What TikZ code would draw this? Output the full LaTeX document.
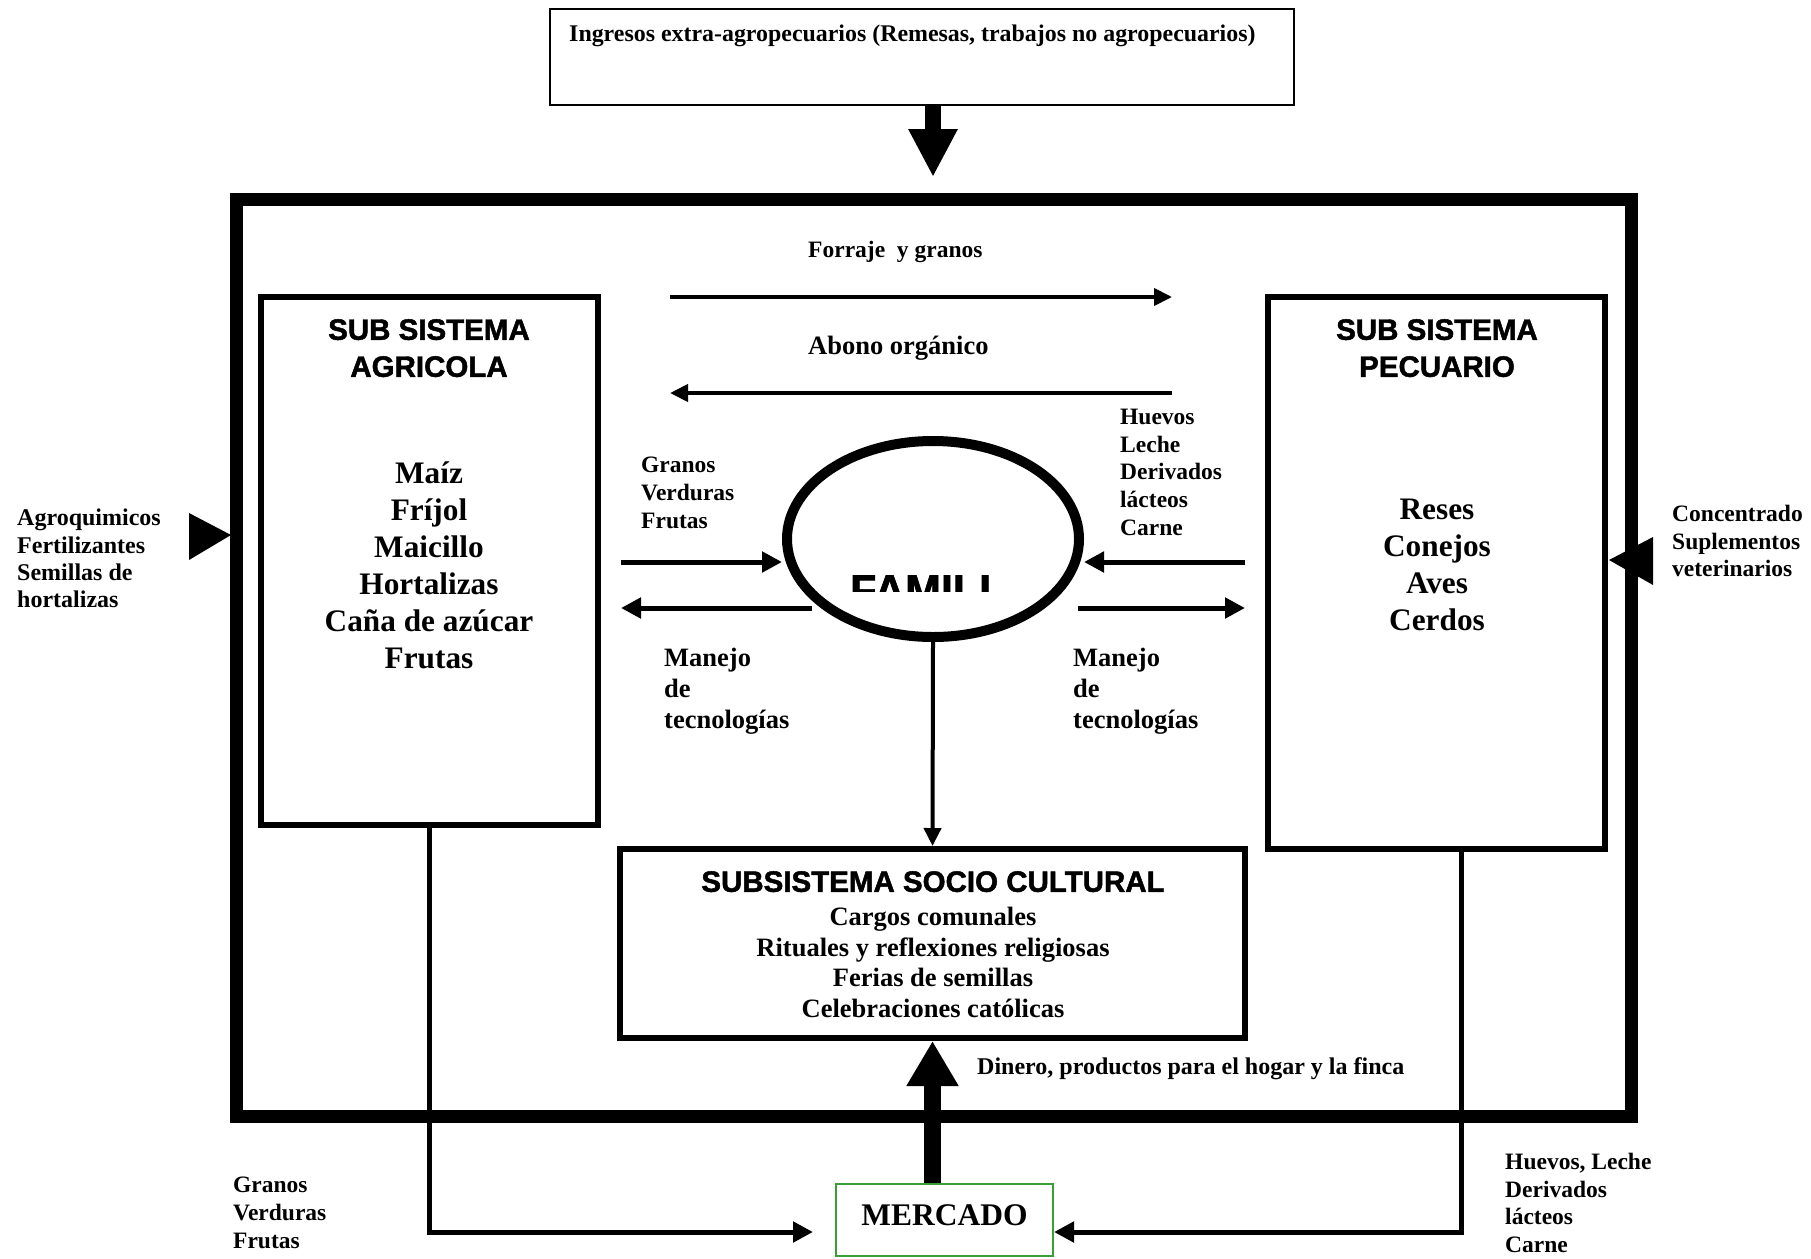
\documentclass[tikz,border=0pt]{standalone}
\usepackage{fontspec}
\setmainfont{Liberation Serif}
\newfontfamily\hdfont[BoldFeatures={FakeBold=1.6}]{Liberation Sans}
\usetikzlibrary{arrows.meta,shapes.geometric}
\definecolor{mgreen}{RGB}{56,158,56}
\tikzset{
  small/.style={font=\bfseries\fontsize{23.5}{27.7}\selectfont, align=left, anchor=north west},
  big/.style={font=\bfseries\fontsize{31.3}{37}\selectfont, align=center, anchor=north},
  mid/.style={font=\bfseries\fontsize{26.5}{30.6}\selectfont, align=center, anchor=north},
  headtxt/.style={font=\hdfont\bfseries\fontsize{29.5}{37}\selectfont, align=center, anchor=north},
  subbox/.style={draw, line width=6pt, rectangle},
  thinarr/.style={line width=5pt, -{Triangle[length=20pt,width=20pt]}},
  medarr/.style={line width=4pt, -{Triangle[length=18pt,width=17pt]}},
  linkarr/.style={line width=5pt, -{Triangle[length=20pt,width=20pt]}},
}
\begin{document}
\begin{tikzpicture}[x=1pt,y=-1pt, every node/.style={inner sep=0pt}]
\useasboundingbox (0,0) rectangle (1811,1258);

% top box
\node[draw, line width=2pt, minimum width=744pt, minimum height=96pt] (top) at (922,57) {};
\node[small, font=\bfseries\fontsize{23.9}{27.7}\selectfont] (toptxt) at (569,25) {Ingresos extra-agropecuarios (Remesas, trabajos no agropecuarios)};
\coordinate (toptip) at (933,177);
\draw[line width=16pt, -{Triangle[length=48pt,width=46pt]}] (top.south -| toptip) -- (toptip);

% outer box
\node[draw, line width=13pt, minimum width=1395pt, minimum height=917pt] (outer) at (933.5,657.5) {};

% agricola
\node[subbox, minimum width=337pt, minimum height=528pt] (agri) at (429.5,561) {};
\node[headtxt] (agrititle) at (429,319) {SUB SISTEMA\\AGRICOLA};
\node[big] (agriitems) at (429,461.5) {Maíz\\Fríjol\\Maicillo\\Hortalizas\\Caña de azúcar\\Frutas};

% pecuario
\node[subbox, minimum width=337pt, minimum height=552pt] (pec) at (1436.5,573) {};
\node[headtxt] (pectitle) at (1437,319) {SUB SISTEMA\\PECUARIO};
\node[big] (pecitems) at (1437,498.5) {Reses\\Conejos\\Aves\\Cerdos};

% socio cultural
\node[subbox, minimum width=625pt, minimum height=189pt] (socio) at (932.5,943.5) {};
\node[headtxt] (sociotitle) at (933,871) {SUBSISTEMA SOCIO CULTURAL};
\node[mid] (socioitems) at (933,907) {Cargos comunales\\Rituales y reflexiones religiosas\\Ferias de semillas\\Celebraciones católicas};

% familia
\node[draw, ellipse, line width=10pt, minimum width=292pt, minimum height=196pt] (fam) at (933,539) {};
\begin{scope}
  \clip (840,560) rectangle (1000,591);
  \node[font=\hdfont\bfseries\fontsize{43}{45}\selectfont, anchor=base west] (famtxt) at (850,605) {FAMILI};
\end{scope}

% forraje / abono
\coordinate (fa) at (670,297);
\coordinate (fb) at (1172,297);
\coordinate (aa) at (1172,393);
\coordinate (ab) at (670,393);
\draw[medarr] (fa) -- (fb);
\draw[medarr] (aa) -- (ab);
\node[small] (forraje) at (808,241) {Forraje\ \ y granos};
\node[small, font=\bfseries\fontsize{26.5}{30}\selectfont] (abono) at (808,336) {Abono orgánico};

% arrows around familia
\coordinate (lin) at (621,562);
\coordinate (lout) at (621,608);
\coordinate (rin) at (1245,562);
\coordinate (rout) at (1245,608);
\draw[thinarr] (lin) -- (lin -| fam.west);
\draw[thinarr] (812,608) -- (lout);
\draw[thinarr] (rin) -- (rin -| fam.east);
\draw[thinarr] (1078,608) -- (rout);
\node[small] (gvf) at (641,457) {Granos\\Verduras\\Frutas};
\node[small] (hld) at (1120,409) {Huevos\\Leche\\Derivados\\lácteos\\Carne};
\node[small, font=\bfseries\fontsize{26.5}{31}\selectfont] (manl) at (664,648) {Manejo\\de\\tecnologías};
\node[small, font=\bfseries\fontsize{26.5}{31}\selectfont] (manr) at (1073,648) {Manejo\\de\\tecnologías};

% familia to socio
\draw[medarr] (fam.south) -- (socio.north);

% external inputs
\fill (189,513) -- (231,535) -- (189,560) -- cycle;
\fill (1653,537) -- (1609,560) -- (1653,585) -- cycle;
\node[small, font=\bfseries\fontsize{24}{27.3}\selectfont] (agroq) at (17,509) {Agroquimicos\\Fertilizantes\\Semillas de\\hortalizas};
\node[small] (conc) at (1672,505) {Concentrado\\Suplementos\\veterinarios};

% mercado
\node[draw=mgreen, line width=2pt, minimum width=217pt, minimum height=72pt, text depth=10pt,
      font=\bfseries\fontsize{31.5}{35}\selectfont] (merc) at (944.5,1220) {MERCADO};
\draw[line width=17pt, -{Triangle[length=45pt,width=49pt]}] (socio.south |- merc.north) -- (socio.south);
\node[small, font=\bfseries\fontsize{24}{27.7}\selectfont] (dinero) at (977,1057) {Dinero, productos para el hogar y la finca};

% bottom connectors
\coordinate (bl) at (429,1232);
\coordinate (br) at (1461,1232);
\draw[linkarr] (agri.south -| bl) -- (bl) -- (813,1232);
\draw[linkarr] (pec.south -| br) -- (br) -- (merc.east |- br);
\node[small] (gvf2) at (233,1177) {Granos\\Verduras\\Frutas};
\node[small] (hld2) at (1505,1153) {Huevos, Leche\\Derivados\\lácteos\\Carne};
\end{tikzpicture}
\end{document}
